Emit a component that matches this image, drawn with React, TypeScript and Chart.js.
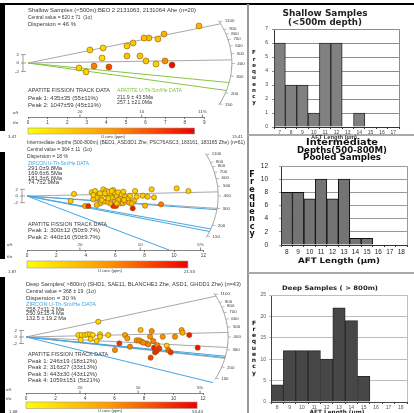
import React, { useEffect, useRef } from "react";
import { Chart, registerables } from "chart.js";
Chart.register(...registerables);

const W = 414;
const H = 413;
const SANS = '"Liberation Sans", Arial, sans-serif';
const WIDE = '"DejaVu Sans", Verdana, sans-serif';
const GREEN = "#86c540";
const BLUE = "#45a6e2";
const TXT = "#3a3a3a";

// ================= DATA =================
// Radial plots: t/σ (precision) and standardised estimate, U concentration (ppm)
const arcTickAges = [150, 200, 300, 400, 500, 600, 700, 800, 900, 1100];

// Shallow samples (<500 m)
const shallowTS = [8.72, 6.94, 6.17, 5.92, 6.63, 5.36, 5.05, 3.83, 3.16, 3.78, 5.05, 5.71, 6.02, 6.99, 6.53, 7.35, 4.13, 3.37, 2.6, 2.96];
const shallowZ = [8.81, 6.9, 5.95, 5.95, 5.71, 4.76, 4.05, 3.57, 3.1, 1.19, 1.67, 1.67, 0.48, 0.48, -0.24, -0.48, -0.95, -0.71, -1.19, -2.14];
const shallowU = [7.0, 7.2, 6.5, 6.5, 6.0, 6.0, 5.5, 5.0, 5.5, 4.5, 6.0, 6.0, 6.2, 9.5, 5.0, 15.0, 12.5, 10.0, 5.2, 5.0];
const shallowURange = [3.47, 15.41];
const shallowPeakAges = [435, 1047];
const shallowHeAges = [211.9, 257.1];
const shallowTSTicks = [0, 1, 2, 3, 4, 5, 6, 7, 8, 9];
const shallowSTTicks = [2.65, 5.8, 8.9];
const shallowSTLabels = ["20", "10", "11%"];

// Intermediate depths (500-800 m)
const midTS = [3.2, 2.97, 3.95, 4.17, 4.4, 4.63, 4.85, 5.19, 5.37, 5.01, 4.74, 4.51, 5.42, 5.65, 5.76, 5.87, 5.99, 6.1, 6.21, 6.33, 6.44, 6.55, 6.67, 6.78, 5.99, 5.87, 6.05, 5.65, 5.42, 5.19, 4.97, 6.33, 6.51, 6.67, 6.89, 7.01, 7.19, 7.35, 7.28, 7.46, 7.87, 8.03, 8.21, 8.48, 8.64, 9.12, 10.18, 10.98, 4.74, 5.08, 5.53, 6.21, 6.6, 5.31, 5.58, 5.76, 4.97, 6.96, 7.12, 4.51, 6.1];
const midZ = [0.6, -1.5, -3.0, -3.0, 1.1, 1.5, 0.3, 2.0, 1.5, -0.5, -0.5, -1.0, 0.3, 0.5, -0.5, 1.8, 0.8, 0, 1.1, -0.7, 0.5, 1.3, -0.2, -1.2, -1.7, -3.0, -3.0, -2.2, -1.7, -1.7, -2.2, -2.2, -2.2, -1.7, -0.7, 0.1, -3.7, 1.5, -1.4, -0.2, 0.1, -2.9, -0.2, 2.0, -0.4, -2.5, 2.3, 1.5, -2.7, -1.2, -0.7, -1.2, -1.2, 0.8, 1.3, 1.5, 0.8, -2.0, -2.2, 0.3, -2.2];
const midU = [4.5, 5, 8, 19, 5, 4.5, 5, 4.5, 5, 6, 5.5, 6, 5, 4.5, 6, 4.5, 5, 5.5, 4.5, 6, 5, 4.5, 6, 6.5, 6, 19, 18, 6.5, 6, 6, 6.5, 6.5, 7, 6, 5.5, 5, 20, 4.5, 6.5, 5, 5, 7, 5.5, 5, 5.5, 13, 5, 5, 7, 6, 5.5, 6, 6, 5, 4.5, 5, 5, 6.5, 7, 5, 6.5];
const midURange = [1.87, 21.53];
const midPeakAges = [300, 440];
const midZrnAges = [291.0, 169.6, 181.3, 74.7];
const midTSTicks = [0, 2, 4, 6, 8, 10, 12];
const midSTTicks = [3.6, 7.7, 11.8];
const midSTLabels = ["20", "10", "5%"];

// Deep samples (>800 m)
const deepTS = [4.9, 3.55, 3.77, 4.0, 4.16, 4.34, 4.52, 5.02, 5.58, 3.71, 4.38, 4.79, 5.02, 6.03, 6.33, 6.71, 6.87, 7.5, 7.68, 7.84, 8.18, 7.77, 8.52, 8.41, 8.63, 8.68, 8.75, 8.86, 8.9, 9.04, 8.45, 9.27, 9.54, 9.65, 9.81, 10.1, 10.55, 10.62, 11.07, 11.64, 7.05, 7.95, 8.29];
const deepZ = [4.7, 0.61, 0.61, 0.61, 0.82, 0.82, 0.61, 0.82, 0.61, -0.92, -0.61, -1.23, 0.1, -3.99, -1.94, 0.61, -0.41, -1.02, -1.02, -1.43, -1.94, 2.15, 1.84, 0.1, -1.23, -3.27, -4.7, -4.29, -2.45, -3.48, -6.34, 0.1, -2.66, -3.99, -4.7, 0.1, 2.15, 1.33, 0.61, -3.27, -2.97, -1.74, -2.25];
const deepU = [8, 6, 7, 6, 8, 7, 6, 9, 10, 7, 8, 9, 9, 28, 45, 22, 24, 28, 27, 28, 29, 15, 28, 26, 30, 48, 47, 46, 30, 44, 40, 26, 10, 35, 45, 28, 22, 20, 48, 50, 30, 28, 30];
const deepURange = [1.68, 53.43];
const deepPeakAges = [246, 316, 443, 1059];
const deepZrnAges = [258.7, 250.9, 132.5];
const deepTSTicks = [0, 2, 4, 6, 8, 10, 12];
const deepSTTicks = [3.66, 7.6, 11.8];
const deepSTLabels = ["20", "10", "5%"];

// Histograms: AFT length (µm) vs frequency
const shallowLengths = [7, 8, 9, 10, 11, 12, 13, 14, 15, 16, 17];
const shallowFreq = [6, 3, 3, 1, 6, 6, 0, 1, 0, 0, 0];
const midLengths = [8, 9, 10, 11, 12, 13, 14, 15, 16, 17, 18];
const midFreq = [8, 8, 7, 10, 7, 10, 1, 1, 0, 0, 0];
const deepLengths = [8, 9, 10, 11, 12, 13, 14, 15, 16, 17, 18];
const deepFreq = [4, 12, 12, 12, 10, 22, 19, 6, 0, 0, 0];
const freqLabel = "Frequency";
const lengthLabel = "AFT Length (µm)";

// ================= HELPERS =================
function uColor(u: number, lo: number, hi: number) {
  const t = Math.max(0, Math.min(1, (u - lo) / (hi - lo)));
  let r, g;
  if (t < 0.5) {
    r = 252;
    g = 238 - (t / 0.5) * 98;
  } else {
    const k = (t - 0.5) / 0.5;
    r = 252 - k * 14;
    g = 140 * (1 - k);
  }
  return `rgb(${Math.round(r)},${Math.round(g)},0)`;
}

function arcPoint(age: number, p: any) {
  const m = Math.log(age / p.t0);
  const x = 1 / Math.sqrt(1 / (p.A * p.A) + (m * m) / (p.B * p.B));
  return { x, y: m * x };
}

function drawText(ctx: CanvasRenderingContext2D, it: any) {
  ctx.save();
  ctx.font = `${it.b ? "bold " : ""}${it.s || 5}px ${it.f || SANS}`;
  ctx.fillStyle = it.c || TXT;
  ctx.textBaseline = "middle";
  ctx.textAlign = it.a || "left";
  ctx.translate(it.x, it.y);
  if (it.w) {
    const m = ctx.measureText(it.t).width;
    if (m > 0) ctx.scale(Math.min(1.7, Math.max(0.5, it.w / m)), 1);
  }
  ctx.fillText(it.t, 0, 0);
  ctx.restore();
}

// ================= PANELS =================
const shallowPanel = {
  ts: shallowTS, z: shallowZ, u: shallowU, uRange: shallowURange,
  t0: 405, A: 10.4, B: 28.6, arcMax: 1150, arcMin: 145,
  grayAges: shallowPeakAges, colorAges: shallowHeAges, colorLine: GREEN,
  originX: 28, originY: 63, kx: 19.6, ky: 4.2, top: 5, axisY: 117, xMax: 11,
  tsTicks: shallowTSTicks, stTicks: shallowSTTicks, stLabels: shallowSTLabels,
  cbEnd: 8.5, cbTop: 128, cbH: 6, pointR: 3,
  texts: [
    { t: "Shallow Samples (<500m):BEO 2 2131063, 2131064 Ahe (n=20)", x: 28, y: 11, s: 5, w: 168 },
    { t: "Central value = 620 ± 71  (1σ)", x: 28, y: 18, s: 5, w: 64 },
    { t: "Dispersion = 46 %", x: 28, y: 25, s: 5, w: 48 },
    { t: "APATITE FISSION TRACK DATA", x: 28, y: 91, s: 5, w: 82 },
    { t: "Peak 1: 435±35 (55±11%)", x: 28, y: 99, s: 5.2, w: 70 },
    { t: "Peak 2: 1047±59 (45±11%)", x: 28, y: 106, s: 5.2, w: 73 },
    { t: "APATITE U-Th-Sm/He DATA", x: 117, y: 91, s: 5, w: 65, c: GREEN },
    { t: "211.9 ± 43.5Ma", x: 117, y: 97.5, s: 4.8, w: 36 },
    { t: "257.1 ±21.0Ma", x: 117, y: 103, s: 4.8, w: 35 },
    { t: "σ/t", x: 13, y: 113, s: 4.4 },
    { t: "t/σ", x: 13, y: 123, s: 4.4 },
    { t: "3.47", x: 8, y: 137, s: 4.4 },
    { t: "U conc (ppm)", x: 113, y: 136.5, s: 4, a: "center" },
    { t: "15.41", x: 232, y: 137, s: 4.4 },
  ],
};

const midPanel = {
  ts: midTS, z: midZ, u: midU, uRange: midURange,
  t0: 400, A: 13.0, B: 36, arcMax: 1150, arcMin: 145,
  grayAges: midPeakAges, colorAges: midZrnAges, colorLine: BLUE,
  originX: 27, originY: 196, kx: 14.7, ky: 3.33, top: 141, axisY: 250, xMax: 14.5,
  tsTicks: midTSTicks, stTicks: midSTTicks, stLabels: midSTLabels,
  cbEnd: 10.95, cbTop: 261, cbH: 7, pointR: 2.6,
  texts: [
    { t: "Intermediate depths (500-800m) (BED1, ASD3D1 Zhe, PSC76ASC3, 183161, 183165 Zhe) (n=61)", x: 27, y: 142.5, s: 4.8, w: 218 },
    { t: "Central value = 364 ± 11  (1σ)", x: 27, y: 149.5, s: 4.8, w: 65 },
    { t: "Dispersion = 18 %", x: 27, y: 156.5, s: 4.8, w: 41 },
    { t: "ZIRCON U-Th-Sm/He DATA", x: 28, y: 164, s: 4.6, w: 61, c: BLUE },
    { t: "291.0±9.8Ma", x: 28, y: 169, s: 4.6, w: 34 },
    { t: "169.6±6.5Ma", x: 28, y: 173.8, s: 4.6, w: 34 },
    { t: "181.3±6.6Ma", x: 28, y: 178.5, s: 4.6, w: 34 },
    { t: "74.7±2.9Ma", x: 28, y: 183.2, s: 4.6, w: 31 },
    { t: "APATITE FISSION TRACK DATA", x: 28, y: 224.5, s: 4.8, w: 79 },
    { t: "Peak 1: 300±12 (50±9.7%)", x: 28, y: 231, s: 4.8, w: 72 },
    { t: "Peak 2: 440±16 (50±9.7%)", x: 28, y: 238, s: 4.8, w: 72 },
    { t: "σ/t", x: 7, y: 245, s: 4.4 },
    { t: "t/σ", x: 7, y: 257, s: 4.4 },
    { t: "1.87", x: 8, y: 271.5, s: 4.4 },
    { t: "U conc (ppm)", x: 110, y: 271, s: 4, a: "center" },
    { t: "21.53", x: 184, y: 271.5, s: 4.4 },
  ],
};

const deepPanel = {
  ts: deepTS, z: deepZ, u: deepU, uRange: deepURange,
  t0: 400, A: 13.7, B: 36.8, arcMax: 1150, arcMin: 145,
  grayAges: deepPeakAges, colorAges: deepZrnAges, colorLine: BLUE,
  originX: 26, originY: 337, kx: 14.75, ky: 3.26, top: 278, axisY: 393, xMax: 14.5,
  tsTicks: deepTSTicks, stTicks: deepSTTicks, stLabels: deepSTLabels,
  cbEnd: 11.6, cbTop: 402, cbH: 6.5, pointR: 2.6,
  texts: [
    { t: "Deep Samples( >800m) (SHD1, SAE11, BLANCHE1 Zhe, ASD1, GHDD1 Zhe) (n=43)", x: 26, y: 285, s: 5.2, w: 215 },
    { t: "Central value = 368 ± 19  (1σ)", x: 26, y: 292, s: 5.2, w: 70 },
    { t: "Dispersion = 30 %", x: 26, y: 299, s: 5.2, w: 50 },
    { t: "ZIRCON U-Th-Sm/He DATA", x: 26, y: 304.5, s: 4.8, w: 70, c: BLUE },
    { t: "258.7±11.2 Ma", x: 26, y: 309.5, s: 4.8, w: 38 },
    { t: "250.9±15.4 Ma", x: 26, y: 314, s: 4.8, w: 38 },
    { t: "132.5 ± 19.2 Ma", x: 26, y: 318.5, s: 4.8, w: 40 },
    { t: "APATITE FISSION TRACK DATA", x: 28, y: 355, s: 5, w: 80 },
    { t: "Peak 1: 246±19 (18±12%)", x: 28, y: 361.5, s: 5, w: 69 },
    { t: "Peak 2: 316±27 (33±13%)", x: 28, y: 368, s: 5, w: 69 },
    { t: "Peak 3: 443±30 (43±12%)", x: 28, y: 374.5, s: 5, w: 69 },
    { t: "Peak 4: 1059±151 (5±21%)", x: 28, y: 381, s: 5, w: 72 },
    { t: "σ/t", x: 6, y: 390, s: 4.4 },
    { t: "t/σ", x: 6, y: 399, s: 4.4 },
    { t: "1.68", x: 9, y: 411.5, s: 4.4 },
    { t: "U conc (ppm)", x: 110, y: 411, s: 4, a: "center" },
    { t: "53.43", x: 192, y: 411.5, s: 4.4 },
  ],
};

function radialPlugin(p: any) {
  return {
    id: "radialDeco",
    beforeDatasetsDraw(chart: any) {
      const { ctx, scales } = chart;
      const x = scales.x, y = scales.y;
      const x0 = x.getPixelForValue(0), y0 = y.getPixelForValue(0);
      const a1 = arcPoint(p.arcMax, p), a2 = arcPoint(p.arcMin, p);
      const f1 = Math.atan2(a1.y / p.B, a1.x / p.A);
      const f2 = Math.atan2(a2.y / p.B, a2.x / p.A);
      ctx.save();
      ctx.strokeStyle = "#9a9a9a";
      ctx.lineWidth = 1;
      ctx.beginPath();
      for (let i = 0; i <= 80; i++) {
        const f = f1 + ((f2 - f1) * i) / 80;
        const px = x.getPixelForValue(p.A * Math.cos(f));
        const py = y.getPixelForValue(p.B * Math.sin(f));
        if (i === 0) ctx.moveTo(px, py);
        else ctx.lineTo(px, py);
      }
      ctx.stroke();
      ctx.lineWidth = 0.7;
      for (const age of arcTickAges) {
        const q = arcPoint(age, p);
        const px = x.getPixelForValue(q.x), py = y.getPixelForValue(q.y);
        const dx = px - x0, dy = py - y0;
        const L = Math.hypot(dx, dy);
        const ux = dx / L, uy = dy / L;
        ctx.beginPath();
        ctx.moveTo(px, py);
        ctx.lineTo(px + ux * 3, py + uy * 3);
        ctx.stroke();
        drawText(ctx, { t: String(age), x: px + ux * 5 + 0.5, y: py + uy * 5, s: 4.4 });
      }
      // small ±2 axis
      ctx.strokeStyle = "#777";
      ctx.lineWidth = 0.7;
      const xa = x0 - 5;
      ctx.beginPath();
      ctx.moveTo(xa, y.getPixelForValue(2));
      ctx.lineTo(xa, y.getPixelForValue(-2));
      ctx.stroke();
      [2, 0, -2].forEach((v) => {
        const py = y.getPixelForValue(v);
        ctx.beginPath();
        ctx.moveTo(xa - 2, py);
        ctx.lineTo(xa + 3, py);
        ctx.stroke();
        drawText(ctx, { t: String(v), x: xa - 4, y: py, s: 4.4, a: "right" });
      });
      ctx.restore();
    },
    afterDraw(chart: any) {
      const { ctx, chartArea, scales } = chart;
      const x = scales.x;
      const yA = chartArea.bottom + 0.5;
      ctx.save();
      ctx.strokeStyle = "#666";
      ctx.lineWidth = 0.8;
      ctx.beginPath();
      ctx.moveTo(x.getPixelForValue(p.tsTicks[0]), yA);
      ctx.lineTo(x.getPixelForValue(p.tsTicks[p.tsTicks.length - 1]), yA);
      ctx.stroke();
      p.stTicks.forEach((v: number, i: number) => {
        const px = x.getPixelForValue(v);
        ctx.beginPath();
        ctx.moveTo(px, yA);
        ctx.lineTo(px, yA - 3);
        ctx.stroke();
        drawText(ctx, { t: p.stLabels[i], x: px, y: yA - 5.5, s: 4.4, a: "center" });
      });
      const cx0 = x.getPixelForValue(0), cx1 = x.getPixelForValue(p.cbEnd);
      const g = ctx.createLinearGradient(cx0, 0, cx1, 0);
      g.addColorStop(0, "#ffff00");
      g.addColorStop(0.5, "#ff9600");
      g.addColorStop(1, "#f00000");
      ctx.fillStyle = g;
      ctx.fillRect(cx0, p.cbTop, cx1 - cx0, p.cbH);
      ctx.strokeStyle = "#999";
      ctx.lineWidth = 0.6;
      ctx.strokeRect(cx0, p.cbTop, cx1 - cx0, p.cbH);
      p.texts.forEach((t: any) => drawText(ctx, t));
      ctx.restore();
    },
  };
}

function radialConfig(p: any) {
  const pts = p.ts.map((v: number, i: number) => ({ x: v, y: p.z[i] }));
  const colors = p.u.map((u: number) => uColor(u, p.uRange[0], p.uRange[1]));
  const line = (age: number, color: string) => ({
    type: "line",
    data: [{ x: 0, y: 0 }, arcPoint(age, p)],
    borderColor: color,
    borderWidth: 1,
    pointRadius: 0,
    showLine: true,
    fill: false,
    order: 2,
  });
  const chartRight = p.originX + p.kx * p.xMax;
  return {
    type: "scatter",
    data: {
      datasets: [
        {
          type: "scatter",
          data: pts,
          pointRadius: p.pointR,
          pointBackgroundColor: colors,
          pointBorderColor: "#8a5c08",
          pointBorderWidth: 0.6,
          order: 0,
        },
        ...p.colorAges.map((a: number) => line(a, p.colorLine)),
        ...p.grayAges.map((a: number) => line(a, "#a8a8a8")),
      ],
    },
    options: {
      responsive: false,
      maintainAspectRatio: false,
      animation: false,
      devicePixelRatio: 1,
      events: [],
      layout: {
        padding: {
          left: p.originX,
          right: W - chartRight,
          top: p.top,
          bottom: H - p.axisY - 8,
        },
      },
      plugins: { legend: { display: false }, tooltip: { enabled: false } },
      scales: {
        x: {
          type: "linear",
          min: 0,
          max: p.xMax,
          afterBuildTicks: (s: any) => {
            s.ticks = p.tsTicks.map((v: number) => ({ value: v }));
          },
          afterFit: (s: any) => {
            s.height = 8;
          },
          grid: { display: true, drawOnChartArea: false, drawTicks: true, tickLength: 2, color: "#777" },
          border: { display: false },
          ticks: { font: { size: 4.6, family: SANS }, color: TXT, padding: 1, maxRotation: 0, minRotation: 0, autoSkip: false },
        },
        y: {
          type: "linear",
          display: false,
          min: -(p.axisY - p.originY) / p.ky,
          max: (p.originY - p.top) / p.ky,
        },
      },
    },
    plugins: [radialPlugin(p)],
  };
}

// ---------- histograms ----------
const shallowHist = {
  labels: shallowLengths, freq: shallowFreq, yMax: 7, yStep: 1,
  padLeft: 248, chartLeft: 274, chartRight: 399, top: 29, bottom: 127, xH: 10,
  fill: "#808080", edge: "#2a2a2a", grid: "#8c8c8c", axis: "#333",
  xFont: 5, yFont: 5, tickColor: "#444", yPad: 4,
  texts: [
    { t: "Shallow Samples", x: 325, y: 14, s: 9, b: true, f: WIDE, a: "center", w: 85, c: "#222" },
    { t: "(<500m depth)", x: 325, y: 23, s: 9, b: true, f: WIDE, a: "center", w: 74, c: "#222" },
    { t: lengthLabel, x: 334, y: 137.5, s: 4.8, b: true, a: "center", w: 46, c: "#333" },
  ],
  fx: 254, fy: 53, fdy: 6.25, fs: 5.5,
};

const midHist = {
  labels: midLengths, freq: midFreq, yMax: 12, yStep: 2,
  padLeft: 248, chartLeft: 281, chartRight: 407, top: 166, bottom: 245, xH: 10,
  fill: "#747474", edge: "#111", grid: "#9a9a9a", axis: "#333",
  xFont: 6.5, yFont: 6.5, tickColor: "#222", yPad: 11,
  texts: [
    { t: "Intermediate", x: 342, y: 142.5, s: 8.2, b: true, f: WIDE, a: "center", w: 72, c: "#111" },
    { t: "Depths(500-800M)", x: 342, y: 150.5, s: 8.2, b: true, f: WIDE, a: "center", w: 90, c: "#111" },
    { t: "Pooled Samples", x: 342, y: 158.3, s: 8.2, b: true, f: WIDE, a: "center", w: 78, c: "#111" },
    { t: lengthLabel, x: 339, y: 261.5, s: 7.5, b: true, f: WIDE, a: "center", w: 82, c: "#111" },
  ],
  fx: 252, fy: 175, fdy: 7.4, fs: 8,
};

const deepHist = {
  labels: deepLengths, freq: deepFreq, yMax: 25, yStep: 5,
  padLeft: 248, chartLeft: 271, chartRight: 407, top: 295, bottom: 402, xH: 9,
  fill: "#474747", edge: "#2a2a2a", grid: "#bdbdbd", axis: "#444",
  xFont: 5, yFont: 5, tickColor: "#555", yPad: 3,
  texts: [
    { t: "Deep Samples ( > 800m)", x: 330, y: 288, s: 6.2, b: true, f: WIDE, a: "center", w: 96, c: "#222" },
    { t: lengthLabel, x: 337, y: 412, s: 5.8, b: true, f: WIDE, a: "center", w: 55, c: "#222" },
  ],
  fx: 254, fy: 323, fdy: 6.25, fs: 6,
};

function histPlugin(h: any) {
  return {
    id: "histDeco",
    afterDraw(chart: any) {
      const { ctx, chartArea: ca } = chart;
      ctx.save();
      ctx.strokeStyle = h.grid;
      ctx.lineWidth = 1;
      ctx.beginPath();
      ctx.moveTo(ca.left, ca.top + 0.5);
      ctx.lineTo(ca.right + 0.5, ca.top + 0.5);
      ctx.lineTo(ca.right + 0.5, ca.bottom);
      ctx.stroke();
      h.texts.forEach((t: any) => drawText(ctx, t));
      freqLabel.split("").forEach((ch, i) =>
        drawText(ctx, { t: ch, x: h.fx, y: h.fy + i * h.fdy, s: h.fs, b: true, f: WIDE, a: "center", c: "#111" })
      );
      ctx.restore();
    },
  };
}

function histConfig(h: any) {
  return {
    type: "bar",
    data: {
      labels: h.labels.map(String),
      datasets: [
        {
          data: h.freq,
          backgroundColor: h.fill,
          borderColor: h.edge,
          borderWidth: 1,
          barPercentage: 1,
          categoryPercentage: 1,
        },
      ],
    },
    options: {
      responsive: false,
      maintainAspectRatio: false,
      animation: false,
      devicePixelRatio: 1,
      events: [],
      layout: { padding: { left: h.padLeft, right: W - h.chartRight, top: h.top, bottom: H - h.bottom - h.xH } },
      plugins: { legend: { display: false }, tooltip: { enabled: false }, title: { display: false } },
      scales: {
        x: {
          afterFit: (s: any) => {
            s.height = h.xH;
          },
          grid: { display: true, drawOnChartArea: false, drawTicks: true, tickLength: 2, color: h.axis, offset: true },
          border: { display: true, color: h.axis, width: 1 },
          ticks: { font: { size: h.xFont, family: SANS }, color: h.tickColor, padding: 1, maxRotation: 0, minRotation: 0, autoSkip: false },
        },
        y: {
          min: 0,
          max: h.yMax,
          afterFit: (s: any) => {
            s.width = h.chartLeft - h.padLeft;
          },
          ticks: { stepSize: h.yStep, font: { size: h.yFont, family: SANS }, color: h.tickColor, padding: h.yPad },
          grid: { color: h.grid, drawTicks: true, tickLength: 2 },
          border: { display: true, color: h.axis, width: 1 },
        },
      },
    },
    plugins: [histPlugin(h)],
  };
}

function ChartCanvas({ make }: { make: () => any }) {
  const ref = useRef<HTMLCanvasElement>(null);
  useEffect(() => {
    const chart = new Chart(ref.current as HTMLCanvasElement, make());
    return () => chart.destroy();
  }, []);
  return (
    <canvas
      ref={ref}
      width={W}
      height={H}
      style={{ position: "absolute", left: 0, top: 0, width: W, height: H }}
    />
  );
}

const box = (left: number, top: number, width: number, height: number, bg: string) => (
  <div style={{ position: "absolute", left, top, width, height, background: bg }} />
);

export default function App() {
  return (
    <div style={{ position: "absolute", left: 0, top: 0, width: W, height: H, background: "#fff", overflow: "hidden" }}>
      {box(0, 3, W, 2, "#000")}
      {box(0, 4, 5, 127, "#000")}
      {box(0, 152, 5, 107, "#000")}
      {box(0, 277, 5, 136, "#000")}
      {box(247, 4, 1.5, H - 4, "#999")}
      {box(248, 134, W - 248, 1.5, "#aaa")}
      {box(248, 272, W - 248, 1.5, "#aaa")}
      <ChartCanvas make={() => radialConfig(shallowPanel)} />
      <ChartCanvas make={() => radialConfig(midPanel)} />
      <ChartCanvas make={() => radialConfig(deepPanel)} />
      <ChartCanvas make={() => histConfig(shallowHist)} />
      <ChartCanvas make={() => histConfig(midHist)} />
      <ChartCanvas make={() => histConfig(deepHist)} />
    </div>
  );
}
